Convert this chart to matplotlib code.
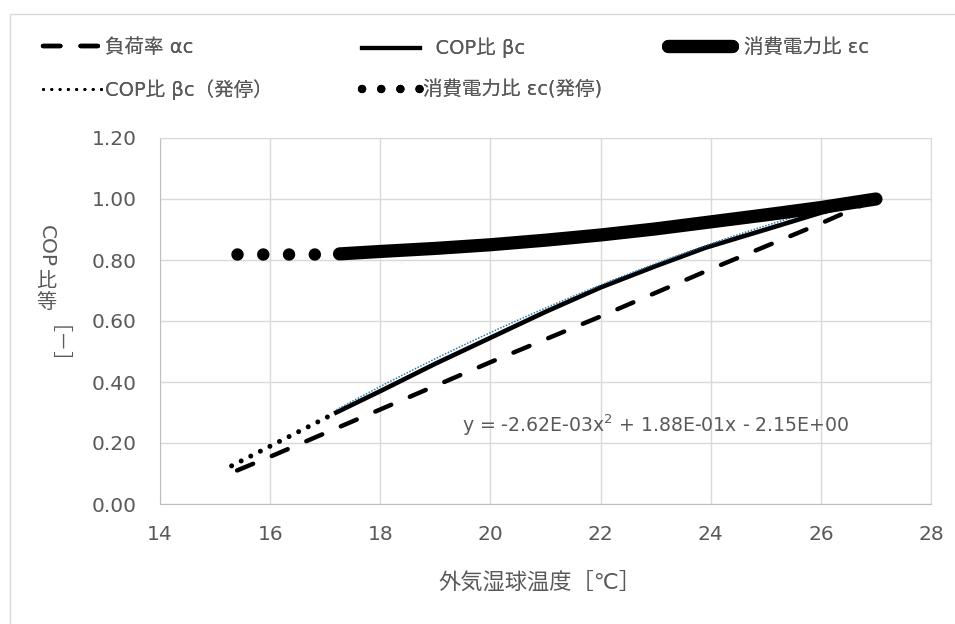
import matplotlib
matplotlib.use('Agg')
import matplotlib.pyplot as plt
from matplotlib.patches import Rectangle
from matplotlib.lines import Line2D
import numpy as np

plt.rcParams['font.family'] = ['DejaVu Sans', 'Noto Sans CJK JP']

# 負荷率 αc
x_alpha = [15.4, 16, 18, 20, 22, 24, 26, 27]
alpha = [0.11, 0.155, 0.31, 0.465, 0.615, 0.77, 0.92, 1.0]
# COP比 βc
x_beta = [17.2, 18, 19, 20, 21, 22, 23, 23.9, 25, 26, 27]
beta = [0.30, 0.37, 0.46, 0.545, 0.63, 0.71, 0.78, 0.84, 0.90, 0.955, 1.0]
# COP比 βc（発停）
x_beta_s = [15.3, 17.2]
beta_s = [0.125, 0.30]
# 消費電力比 εc
x_eps = [17.26, 18, 19, 20, 21, 22, 23, 24, 25, 26, 27]
eps = [0.82, 0.828, 0.838, 0.85, 0.865, 0.882, 0.902, 0.925, 0.948, 0.972, 1.0]
# 消費電力比 εc(発停)
x_eps_s = [15.39, 17.26]
eps_s = [0.82, 0.82]
# 多項式近似
coef = [-2.62e-03, 1.88e-01, -2.15e+00]

gray = '#595959'
grid = '#d9d9d9'
W, H = 955, 624

fig = plt.figure(figsize=(9.55, 6.24), dpi=100)
fig.patches.append(Rectangle((10 / W, -0.1), 1.2, 1 - 14 / H + 0.1,
                             transform=fig.transFigure, fill=False,
                             edgecolor=grid, linewidth=1))
ax = fig.add_axes([160 / W, 1 - 504 / H, 771 / W, 366 / H])

ax.plot(x_alpha, alpha, color='black', lw=3.2, dashes=(3.9, 4.55),
        dash_capstyle='round')
ax.plot(x_beta, beta, color='black', lw=3.3)
xt = np.linspace(x_beta[0], x_beta[-1], 60)
ax.plot(xt, np.polyval(coef, xt), color='#2a7ab0', lw=1.1, ls=(0, (1, 1)))
ax.plot(x_beta_s, beta_s, color='black', lw=3.6, ls=(0, (0.01, 2.14)),
        dash_capstyle='round')
ax.plot(x_eps_s, eps_s, color='black', lw=9, ls=(0, (0.001, 2.06)),
        dash_capstyle='round')
ax.plot(x_eps, eps, color='black', lw=9.5, solid_capstyle='round')

ax.text(19.48, 0.259, 'y = -2.62E-03x$^2$ + 1.88E-01x - 2.15E+00',
        fontsize=13.6, color=gray, va='center')

ax.set_xlim(14, 28)
ax.set_ylim(0, 1.2)
ax.set_xticks(np.arange(14, 29, 2))
ax.set_yticks(np.arange(0, 1.21, 0.2))
ax.set_yticklabels(['%.2f' % v for v in np.arange(0, 1.21, 0.2)])
ax.tick_params(length=0, labelsize=14.5, labelcolor=gray)
ax.tick_params(axis='x', pad=15)
ax.tick_params(axis='y', pad=17)
ax.grid(True, color=grid, lw=1)
ax.set_axisbelow(True)
for s in ax.spines.values():
    s.set_color(grid)
ax.spines['left'].set_color('#bfbfbf')
ax.spines['bottom'].set_color('#bfbfbf')

fig.text(540 / W, 1 - 582 / H, '外気湿球温度［℃］', fontsize=16, color=gray,
         ha='center', va='center')

# 縦書きの軸ラベル
fig.text(46 / W, 1 - 246 / H, 'COP', rotation=270, fontsize=14.5,
         color=gray, ha='center', va='center')
fig.text(46 / W, 1 - 281 / H, '比', fontsize=14.5, color=gray,
         ha='center', va='center')
fig.text(46 / W, 1 - 302 / H, '等', fontsize=14.5, color=gray,
         ha='center', va='center')
fig.text(46 / W, 1 - 355 / H, '［－］', rotation=270, fontsize=14.5,
         color=gray, ha='center', va='center')

# 凡例（列ごと）
h_alpha = Line2D([], [], color='black', lw=3.2, dashes=(3.9, 4.55),
                 dash_capstyle='round')
h_beta = Line2D([], [], color='black', lw=3.0)
h_eps = Line2D([], [], color='black', lw=9.5, solid_capstyle='round')
h_beta_s = Line2D([], [], color='black', lw=2.2, ls=(0, (0.01, 2.7)),
                  dash_capstyle='round')
h_eps_s = Line2D([], [], color='black', lw=6, ls=(0, (0.01, 2.29)),
                 dash_capstyle='round')

cols = [
    ([h_alpha, h_beta_s], ['負荷率 αc', 'COP比 βc（発停）'], 43, 3.0, 0.2),
    ([h_beta, h_eps_s], ['  COP比 βc', '消費電力比 εc(発停)'], 362, 3.0, 0.15),
    ([h_eps], ['消費電力比 εc'], 668, 3.3, 0.6),
]
for hs, labs, x0, hl, tp in cols:
    leg = fig.legend(handles=hs, labels=labs, loc='upper left',
                     bbox_to_anchor=(x0 / W, 1 - 38 / H), frameon=False,
                     fontsize=14, labelcolor=gray, handlelength=hl,
                     handletextpad=tp, labelspacing=1.15, borderpad=0,
                     borderaxespad=0)
    fig.add_artist(leg)

fig.savefig('out.png', dpi=100)
